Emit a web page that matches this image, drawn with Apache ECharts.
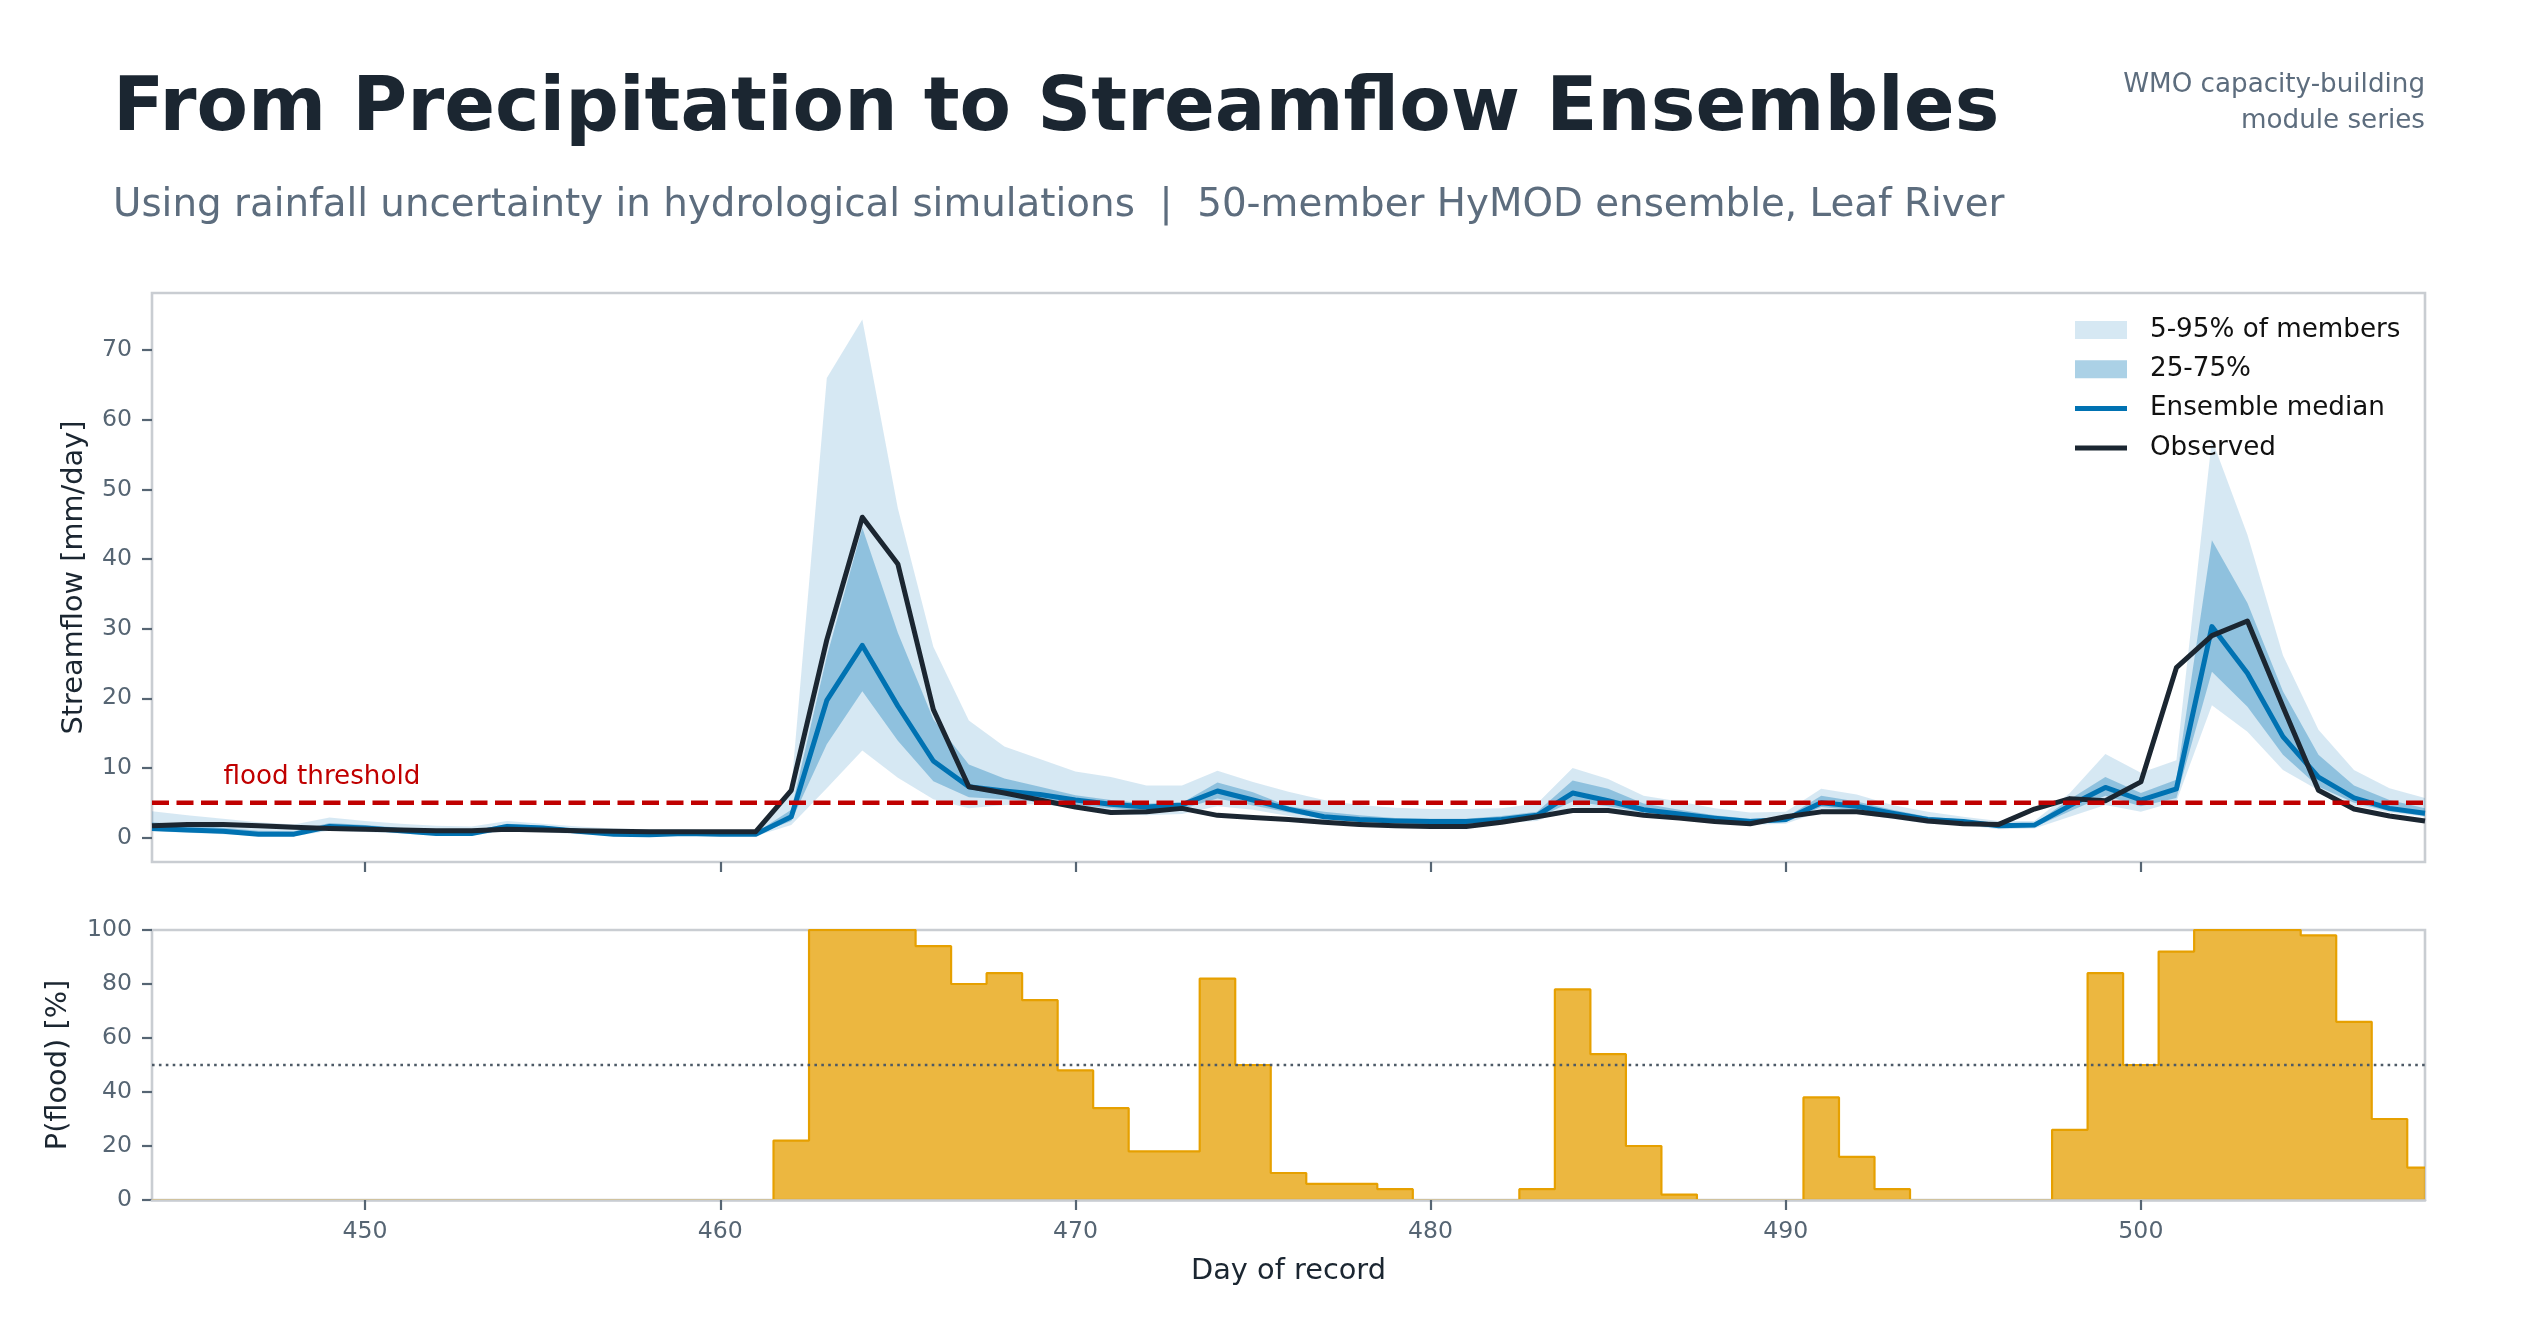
<!DOCTYPE html>
<html><head><meta charset="utf-8">
<script src="https://cdn.jsdelivr.net/npm/echarts@6/dist/echarts.min.js"></script>
<style>html,body{margin:0;padding:0;background:#fff}#c{width:2540px;height:1334px}</style>
</head><body><div id="c"></div>
<script>
// ---------------- data ----------------
const days = [444,445,446,447,448,449,450,451,452,453,454,455,456,457,458,459,460,461,462,463,464,465,466,467,468,469,470,471,472,473,474,475,476,477,478,479,480,481,482,483,484,485,486,487,488,489,490,491,492,493,494,495,496,497,498,499,500,501,502,503,504,505,506,507,508];
const observed = [1.7,1.9,1.9,1.7,1.5,1.3,1.2,1.1,1.0,1.0,1.2,1.1,1.0,0.9,0.85,0.85,0.85,0.85,6.8,28.4,46.0,39.3,18.4,7.3,6.4,5.4,4.4,3.6,3.7,4.2,3.2,2.9,2.6,2.2,1.9,1.7,1.6,1.6,2.2,3.0,3.9,3.9,3.2,2.8,2.3,2.0,3.0,3.7,3.7,3.1,2.4,2.0,1.9,4.1,5.6,5.3,8.0,24.4,29.0,31.1,18.8,6.8,4.1,3.1,2.4];
const median = [1.3,1.1,0.9,0.5,0.5,1.6,1.4,1.0,0.6,0.6,1.6,1.4,0.9,0.5,0.4,0.6,0.5,0.5,3.0,19.7,27.6,18.9,11.0,7.3,6.7,6.2,5.4,4.8,4.4,4.7,6.7,5.4,4.1,3.0,2.6,2.4,2.3,2.3,2.6,3.2,6.4,5.3,4.0,3.4,2.8,2.3,2.6,5.0,4.5,3.5,2.6,2.3,1.7,1.8,4.6,7.2,5.4,7.0,30.3,23.6,14.5,8.7,5.7,4.2,3.5];
const p95 = [3.8,3.2,2.7,2.2,1.9,2.9,2.4,2.0,1.7,1.6,2.4,2.0,1.6,1.3,1.2,1.2,1.0,1.0,7.0,66.0,74.4,47.3,27.4,16.8,13.1,11.3,9.5,8.7,7.5,7.5,9.6,8.0,6.6,5.4,4.7,4.3,4.1,4.1,4.2,4.9,10.0,8.4,6.0,5.2,4.2,3.6,3.7,7.0,6.2,4.7,3.7,3.0,2.4,2.4,6.4,12.0,9.3,11.1,57.2,43.5,26.2,15.5,9.7,7.1,5.7];
const p75 = [2.2,1.8,1.4,1.0,0.9,2.1,1.8,1.4,1.0,0.9,2.0,1.7,1.2,0.8,0.7,0.8,0.7,0.7,4.0,26.0,44.5,29.4,17.0,10.5,8.5,7.3,6.1,5.4,4.9,5.0,7.9,6.5,4.5,3.7,3.2,2.8,2.7,2.7,3.1,3.7,8.2,7.0,4.9,4.0,3.2,2.7,2.9,6.0,5.2,4.0,3.0,2.6,2.0,2.0,5.5,8.7,6.4,8.3,42.7,33.7,21.0,11.9,7.5,5.4,4.2];
const p25 = [1.0,0.8,0.6,0.35,0.35,1.3,1.1,0.8,0.45,0.45,1.3,1.1,0.7,0.4,0.3,0.45,0.4,0.4,2.4,13.4,21.0,13.9,8.1,5.8,5.5,5.1,4.7,4.2,3.9,4.1,5.6,4.6,3.6,2.7,2.3,2.1,2.0,2.0,2.3,2.8,5.2,4.5,3.6,3.0,2.5,2.0,2.2,4.4,3.9,3.1,2.3,2.0,1.4,1.5,3.8,6.0,4.5,5.7,23.8,18.8,11.9,7.3,5.0,3.8,3.1];
const p5 = [0.9,0.7,0.5,0.25,0.2,1.0,0.8,0.6,0.3,0.3,1.0,0.8,0.5,0.25,0.2,0.3,0.25,0.25,1.8,7.1,12.5,8.6,5.5,4.2,4.7,4.8,4.3,3.4,3.2,3.4,4.5,4.0,3.1,2.4,2.0,1.9,1.8,1.8,2.1,2.4,4.4,3.8,3.2,2.6,2.2,1.8,2.0,3.8,3.4,2.7,2.0,1.8,1.2,1.3,3.0,4.7,3.7,5.2,19.0,15.2,9.7,6.8,4.6,3.6,3.0];
const pFlood = [0,0,0,0,0,0,0,0,0,0,0,0,0,0,0,0,0,0,22,100,100,100,94,80,84,74,48,34,18,18,82,50,10,6,6,4,0,0,0,4,78,54,20,2,0,0,0,38,16,4,0,0,0,0,26,84,50,92,100,100,100,98,66,30,12];
const floodThreshold = 5;
const probReference = 50;
const thresholdLabelAt = [446, 8.7];
const streamTicks = [0,10,20,30,40,50,60,70];
const dayTicks = [450,460,470,480,490,500];
const probTicks = [0,20,40,60,80,100];

// ---------------- helpers ----------------
const FONT = '"DejaVu Sans", sans-serif';
const pairs = ys => days.map((d, i) => [d, ys[i]]);
const dayMin = days[0], dayMax = days[days.length - 1];
const hline = v => [[dayMin, v], [dayMax, v]];

const tickColor = '#566573';
const spine = '#c9cdd2';
const outerBand = 'rgba(0,114,178,0.16)';
const innerBand = 'rgba(0,114,178,0.33)';
const LINE_ICON = 'path://M0,0 L0,0 M0,6.5 L52,6.5 L52,11.5 L0,11.5 Z M52,18 L52,18';

function bandSeries(name, lo, hi, color) {
  return {
    name, type: 'custom', xAxisIndex: 0, yAxisIndex: 0,
    data: days.map((d, i) => [d, lo[i], hi[i]]),
    encode: {x: 0, y: [1, 2]},
    itemStyle: {color},
    silent: true, z: 1,
    renderItem: (params, api) => {
      if (params.dataIndex !== 0) return null;
      const upper = days.map((d, i) => api.coord([d, hi[i]]));
      const lower = days.map((d, i) => api.coord([d, lo[i]])).reverse();
      return {type: 'polygon', shape: {points: upper.concat(lower)}, style: {fill: color}};
    }
  };
}

const chart = echarts.init(document.getElementById('c'), null, {renderer: 'canvas'});

const xAxisBase = (gi, labels) => ({
  type: 'value', gridIndex: gi, min: dayMin, max: dayMax,
  axisLine: {show: gi === 1, onZero: false, lineStyle: {color: spine, width: 2.6}},
  z: gi === 1 ? 5 : 0,
  splitLine: {show: false},
  axisTick: {show: true, customValues: dayTicks, length: 10, lineStyle: {color: tickColor, width: 2.2}},
  axisLabel: {show: labels, customValues: dayTicks, margin: 20, fontFamily: FONT, fontSize: 23.6, color: tickColor}
});

const option = {
  animation: false,
  backgroundColor: '#ffffff',
  textStyle: {fontFamily: FONT},
  graphic: [
    {type: 'text', left: 113, top: 73, style: {text: 'From Precipitation to Streamflow Ensembles', font: 'bold 75px "DejaVu Sans"', fill: '#1b2631'}},
    {type: 'text', left: 113, top: 186, style: {text: 'Using rainfall uncertainty in hydrological simulations  |  50-member HyMOD ensemble, Leaf River', font: '38.8px "DejaVu Sans"', fill: '#5d6d7e'}},
    {type: 'text', right: 115, top: 72, style: {text: 'WMO capacity-building', font: '26.2px "DejaVu Sans"', fill: '#5d6d7e', align: 'right'}},
    {type: 'text', right: 115, top: 108, style: {text: 'module series', font: '26.2px "DejaVu Sans"', fill: '#5d6d7e', align: 'right'}}
  ],
  grid: [
    {left: 152, top: 293, width: 2273, height: 569, show: true, borderColor: spine, borderWidth: 2.6, backgroundColor: 'transparent'},
    {left: 152, top: 930, width: 2273, height: 270, show: true, borderColor: spine, borderWidth: 2.6, backgroundColor: 'transparent'}
  ],
  xAxis: [
    xAxisBase(0, false),
    Object.assign(xAxisBase(1, true), {
      name: 'Day of record', nameLocation: 'middle', nameGap: 57,
      nameTextStyle: {fontFamily: FONT, fontSize: 28.8, color: '#1b2631'}
    })
  ],
  yAxis: [
    {
      type: 'value', gridIndex: 0, min: -3.5, max: 78.2,
      axisLine: {show: false, onZero: false}, splitLine: {show: false},
      axisTick: {show: true, customValues: streamTicks, length: 10, lineStyle: {color: tickColor, width: 2.2}},
      axisLabel: {customValues: streamTicks, margin: 20, fontFamily: FONT, fontSize: 23.6, color: tickColor},
      name: 'Streamflow [mm/day]', nameLocation: 'middle', nameGap: 63,
      nameTextStyle: {fontFamily: FONT, fontSize: 28.8, color: '#1b2631'}
    },
    {
      type: 'value', gridIndex: 1, min: 0, max: 100, interval: 20,
      axisLine: {show: false, onZero: false}, splitLine: {show: false},
      axisTick: {show: true, customValues: probTicks, length: 10, lineStyle: {color: tickColor, width: 2.2}},
      axisLabel: {customValues: probTicks, margin: 20, fontFamily: FONT, fontSize: 23.6, color: tickColor},
      name: 'P(flood) [%]', nameLocation: 'middle', nameGap: 79,
      nameTextStyle: {fontFamily: FONT, fontSize: 28.8, color: '#1b2631'}
    }
  ],
  legend: {
    orient: 'vertical', left: 2070, top: 312, itemWidth: 52, itemHeight: 18, itemGap: 13.3,
    selectedMode: false,
    textStyle: {fontFamily: FONT, fontSize: 26.2, color: '#111111', lineHeight: 26, padding: [0, 0, 0, 18]},
    data: [
      {name: '5-95% of members', icon: 'rect', itemStyle: {color: outerBand, borderWidth: 0}},
      {name: '25-75%', icon: 'rect', itemStyle: {color: innerBand, borderWidth: 0}},
      {name: 'Ensemble median', icon: LINE_ICON, itemStyle: {color: '#0072b2', borderWidth: 0}},
      {name: 'Observed', icon: LINE_ICON, itemStyle: {color: '#1b2631', borderWidth: 0}}
    ]
  },
  series: [
    bandSeries('5-95% of members', p5, p95, outerBand),
    bandSeries('25-75%', p25, p75, innerBand),
    {name: 'Ensemble median', type: 'line', xAxisIndex: 0, yAxisIndex: 0, data: pairs(median),
      symbol: 'none', itemStyle: {color: '#0072b2'}, lineStyle: {color: '#0072b2', width: 5, join: 'round'}, z: 3},
    {name: 'Observed', type: 'line', xAxisIndex: 0, yAxisIndex: 0, data: pairs(observed),
      symbol: 'none', itemStyle: {color: '#1b2631'}, lineStyle: {color: '#1b2631', width: 5, join: 'round'}, z: 4},
    {name: 'threshold', type: 'line', xAxisIndex: 0, yAxisIndex: 0, data: hline(floodThreshold),
      symbol: 'none', lineStyle: {color: '#c00000', width: 4.5, type: [17, 7.5]}, silent: true, z: 5},
    {name: 'threshold label', type: 'scatter', xAxisIndex: 0, yAxisIndex: 0, data: [thresholdLabelAt],
      symbolSize: 1, itemStyle: {color: 'rgba(0,0,0,0)'}, silent: true, z: 6,
      label: {show: true, position: 'right', distance: 0, formatter: 'flood threshold',
        fontFamily: FONT, fontSize: 26.2, color: '#c00000', opacity: 1}},
    {name: 'P(flood)', type: 'line', xAxisIndex: 1, yAxisIndex: 1, data: pairs(pFlood), step: 'middle',
      symbol: 'none', lineStyle: {color: '#e6a000', width: 2.2},
      areaStyle: {color: 'rgba(230,159,0,0.75)', opacity: 1}, silent: true, z: 2},
    {name: 'reference', type: 'line', xAxisIndex: 1, yAxisIndex: 1, data: hline(probReference),
      symbol: 'none', lineStyle: {color: '#4d5a66', width: 2.6, type: [2.6, 4.3]}, silent: true, z: 3}
  ]
};
chart.setOption(option);
</script>
</body></html>
